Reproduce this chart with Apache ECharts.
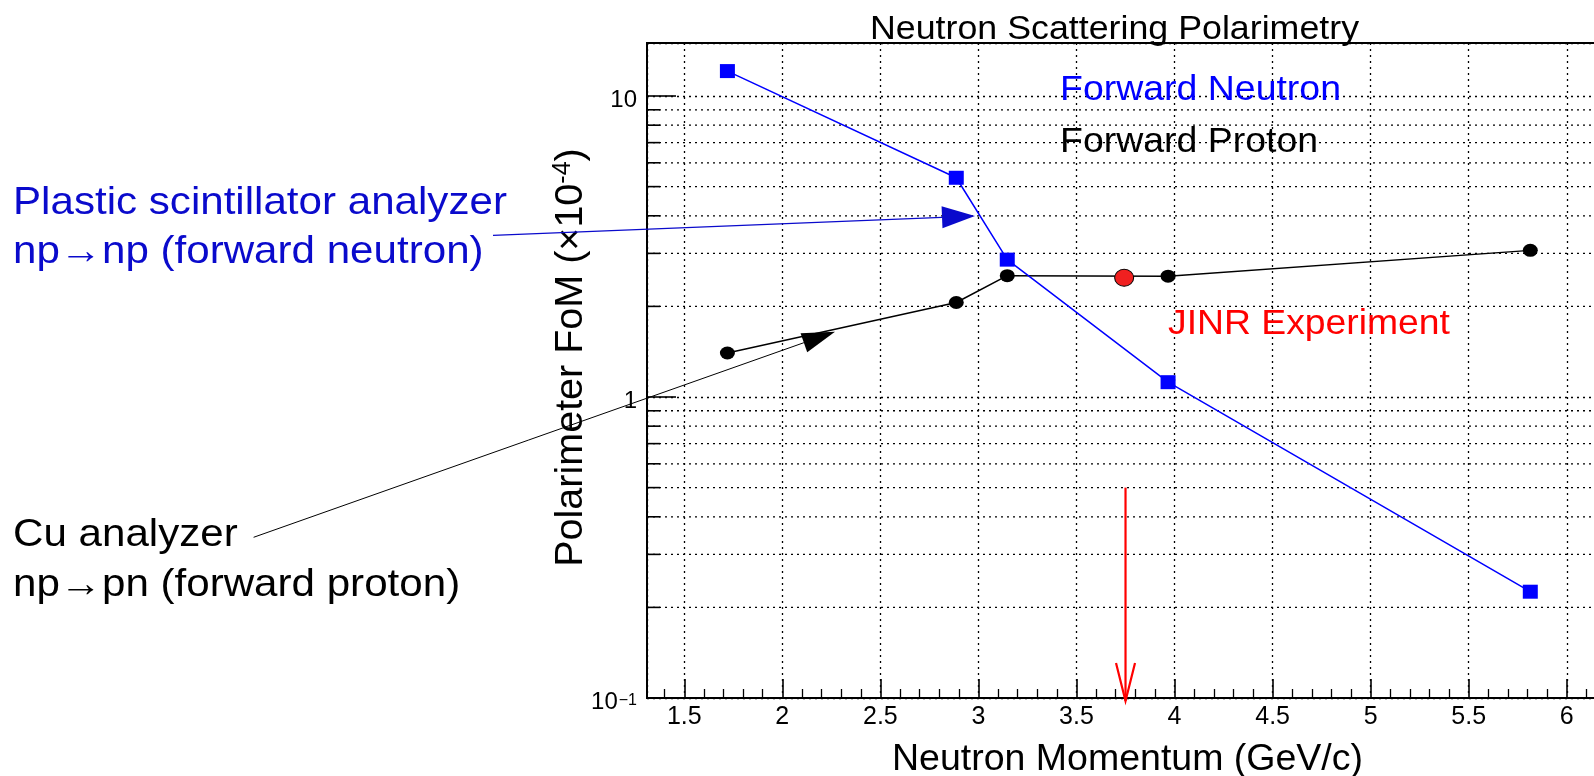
<!DOCTYPE html>
<html><head><meta charset="utf-8">
<script src="https://cdn.jsdelivr.net/npm/echarts@6/dist/echarts.min.js"></script>
<style>html,body{margin:0;padding:0;background:#fff}#c{width:1594px;height:776px}</style>
</head><body><div id="c"></div>
<script>
// ---- data ----
const momentum = [1.72, 2.887, 3.147, 3.967, 5.814];
const forwardNeutron = [12.1, 5.35, 2.86, 1.12, 0.2255];
const forwardProton = [1.40, 2.06, 2.53, 2.52, 3.07];
const jinrPoint = [3.743, 2.49];
const jinrArrow = [3.75, 0.5, 0.1];
const xRange = [1.31, 6.2];
const yRange = [0.1, 15];
const xMinorTicks = [1.4, 1.6, 1.7, 1.8, 1.9, 2.1, 2.2, 2.3, 2.4, 2.6, 2.7, 2.8, 2.9,
  3.1, 3.2, 3.3, 3.4, 3.6, 3.7, 3.8, 3.9, 4.1, 4.2, 4.3, 4.4, 4.6, 4.7, 4.8, 4.9,
  5.1, 5.2, 5.3, 5.4, 5.6, 5.7, 5.8, 5.9, 6.1];
const yMinorGrid = [0.2, 0.3, 0.4, 0.5, 0.6, 0.7, 0.8, 0.9, 2, 3, 4, 5, 6, 7, 8, 9];
const yDecadeLabels = { '0.1': '{b|10}{s|\u22121}', '1': '{b|1}', '10': '{b|10}' };

const FONT = 'Liberation Sans, Arial, Helvetica, sans-serif';
const chart = echarts.init(document.getElementById('c'));

function txt(x, y, text, size, color, sx) {
  return { type: 'text', x: x, y: y, scaleX: sx, z: 50,
    style: { x: 0, y: 0, text: text, fill: color, font: size + 'px ' + FONT, verticalAlign: 'top', align: 'left' } };
}
function arrow(x0, y0, x1, y1, len, hw, color, lw) {
  const dx = x1 - x0, dy = y1 - y0, L = Math.hypot(dx, dy);
  const ux = dx / L, uy = dy / L, nx = -uy, ny = ux;
  const bx = x1 - len * ux, by = y1 - len * uy;
  return [
    { type: 'line', z: 50, shape: { x1: x0, y1: y0, x2: bx, y2: by }, style: { stroke: color, lineWidth: lw } },
    { type: 'polygon', z: 50, shape: { points: [[x1, y1], [bx + hw * nx, by + hw * ny], [bx - hw * nx, by - hw * ny]] }, style: { fill: color } }
  ];
}

const dotted = { type: [2, 4], color: '#000', width: 1.3 };

const option = {
  animation: false,
  backgroundColor: '#fff',
  grid: { left: 647, top: 43, bottom: 78, right: -12, outerBoundsMode: 'none', containLabel: false,
    show: true, borderColor: '#000', borderWidth: 2, backgroundColor: 'transparent' },
  xAxis: [{
    type: 'value', min: xRange[0], max: xRange[1], splitNumber: 10,
    name: 'Neutron Momentum (GeV/c)', nameLocation: 'middle', nameGap: 43, nameMoveOverlap: false,
    nameTextStyle: { fontFamily: FONT, fontSize: 37.5, color: '#000', padding: [0, 0, 0, 2] },
    axisLine: { show: true, onZero: false, lineStyle: { color: '#000', width: 2 } },
    axisTick: { show: true, inside: true, length: 19, lineStyle: { color: '#000', width: 1.6 } },
    axisLabel: { show: true, margin: 7, fontFamily: FONT, fontSize: 25, color: '#000', showMinLabel: false, showMaxLabel: false },
    splitLine: { show: true, lineStyle: dotted }
  }, {
    type: 'value', min: xRange[0], max: xRange[1], position: 'bottom',
    axisLine: { show: false }, axisLabel: { show: false }, splitLine: { show: false },
    axisTick: { show: true, inside: true, length: 9, customValues: xMinorTicks, lineStyle: { color: '#000', width: 1.3 } }
  }],
  yAxis: {
    type: 'log', logBase: 10, min: yRange[0], max: yRange[1],
    name: 'Polarimeter FoM (\u00d710{s|-4})', nameLocation: 'middle', nameGap: 56, nameMoveOverlap: false,
    nameTextStyle: { fontFamily: FONT, fontSize: 39.5, color: '#000', padding: [0, 0, 0, 26],
      rich: { s: { fontFamily: FONT, fontSize: 25, color: '#000', verticalAlign: 'top', lineHeight: 20 } } },
    axisLine: { show: true, onZero: false, lineStyle: { color: '#000', width: 2 } },
    axisTick: { show: true, inside: true, length: 29, lineStyle: { color: '#000', width: 1.6 } },
    axisLabel: { show: true, margin: 10, color: '#000',
      formatter: function (v) { const k = String(+v.toPrecision(6)); return yDecadeLabels[k] || ''; },
      rich: {
        b: { fontFamily: FONT, fontSize: 24, color: '#000', lineHeight: 24, padding: [8, 0, 0, 0] },
        s: { fontFamily: FONT, fontSize: 16, color: '#000', lineHeight: 16, verticalAlign: 'top', padding: [7, 0, 0, 1] }
      } },
    splitLine: { show: true, lineStyle: dotted }
  },
  graphic: [
    txt(870, 13, 'Neutron Scattering Polarimetry', 34, '#000', 1.052),
    txt(1060, 73, 'Forward Neutron', 35, '#0000ff', 1.07),
    txt(1060, 124.5, 'Forward Proton', 35, '#000', 1.07),
    txt(1168, 306.5, 'JINR Experiment', 35, '#ff0000', 1.066),
    txt(13, 184, 'Plastic scintillator analyzer', 39, '#0a0acc', 1.08),
    txt(13, 233, 'np\u2192np (forward neutron)', 39, '#0a0acc', 1.08),
    txt(13, 516, 'Cu analyzer', 39, '#000', 1.08),
    txt(13, 566, 'np\u2192pn (forward proton)', 39, '#000', 1.08)
  ].concat(arrow(493, 235.3, 975, 216, 33, 11, '#0a0acc', 1.3))
   .concat(arrow(253.6, 537.3, 835, 331.7, 33, 10, '#000', 1)),
  series: [
    {
      type: 'custom', name: 'yMinorGrid', silent: true, z: 1, xAxisIndex: 0,
      data: yMinorGrid.map(function (v) { return [xRange[0], v]; }),
      renderItem: function (params, api) {
        const v = api.value(1);
        const p0 = api.coord([xRange[0], v]);
        const p1 = api.coord([xRange[1], v]);
        return { type: 'group', children: [
          { type: 'line', shape: { x1: p0[0], y1: p0[1], x2: p1[0], y2: p1[1] }, style: { stroke: '#000', lineWidth: 1.3, lineDash: [2, 4] } },
          { type: 'line', shape: { x1: p0[0], y1: p0[1], x2: p0[0] + 13, y2: p0[1] }, style: { stroke: '#000', lineWidth: 1.6 } }
        ] };
      }
    },
    {
      type: 'line', name: 'Forward Proton', xAxisIndex: 0, z: 3,
      data: momentum.map(function (x, i) { return [x, forwardProton[i]]; }),
      symbol: 'circle', symbolSize: [15, 13], showAllSymbol: true,
      itemStyle: { color: '#000', opacity: 1 }, lineStyle: { color: '#000', width: 1.5 }
    },
    {
      type: 'line', name: 'Forward Neutron', xAxisIndex: 0, z: 4,
      data: momentum.map(function (x, i) { return [x, forwardNeutron[i]]; }),
      symbol: 'rect', symbolSize: [15, 14], showAllSymbol: true,
      itemStyle: { color: '#0000ff', opacity: 1 }, lineStyle: { color: '#0000ff', width: 1.5 }
    },
    {
      type: 'scatter', name: 'JINR Experiment', xAxisIndex: 0, z: 5,
      data: [jinrPoint], symbol: 'circle', symbolSize: [19, 17],
      itemStyle: { color: '#f02020', borderColor: '#000', borderWidth: 1, opacity: 1 }
    },
    {
      type: 'custom', name: 'JINR arrow', silent: true, z: 6, xAxisIndex: 0,
      data: [jinrArrow],
      renderItem: function (params, api) {
        const x = api.value(0);
        const top = api.coord([x, api.value(1)]);
        const tip = api.coord([x, api.value(2)]);
        tip[1] += 3;
        return { type: 'group', children: [
          { type: 'line', shape: { x1: top[0], y1: top[1], x2: tip[0], y2: tip[1] }, style: { stroke: '#ff0000', lineWidth: 2.2 } },
          { type: 'polyline', shape: { points: [[tip[0] - 9.5, tip[1] - 38], [tip[0], tip[1]], [tip[0] + 9.5, tip[1] - 38]] }, style: { stroke: '#ff0000', lineWidth: 2.2, fill: null } }
        ] };
      }
    }
  ]
};
chart.setOption(option);
</script></body></html>
